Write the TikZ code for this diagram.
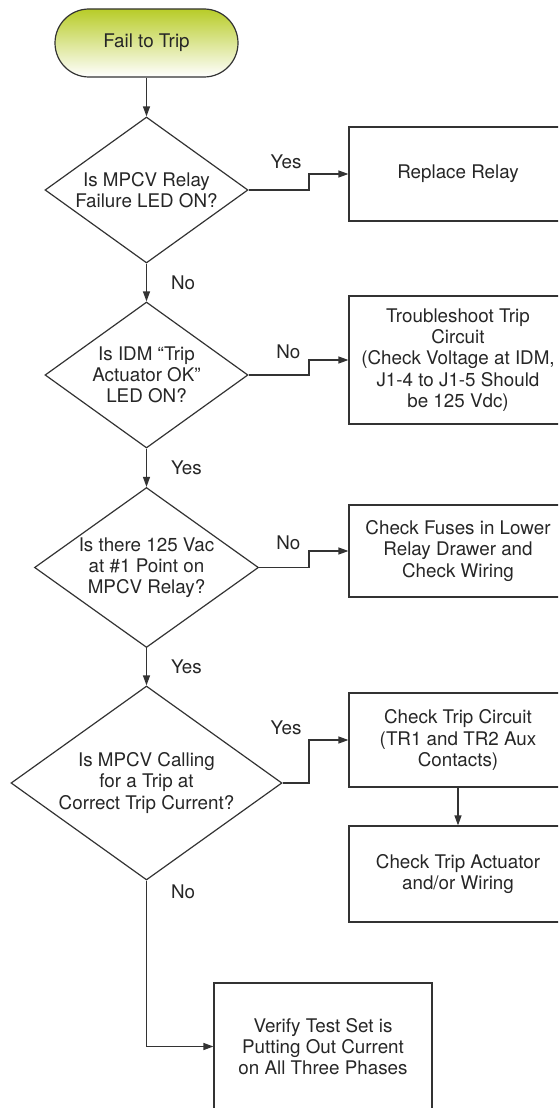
\documentclass[tikz,border=0pt]{standalone}
\usepackage{fontspec}
\setmainfont{TeX Gyre Heros}
\usetikzlibrary{shapes.geometric,arrows.meta}
\definecolor{ln}{HTML}{333333}
\definecolor{tx}{HTML}{262626}
\definecolor{gtop}{RGB}{184,204,40}
\definecolor{gmid}{RGB}{214,227,130}
\begin{document}
\begin{tikzpicture}[x=1pt,y=-1pt,
  every node/.style={font=\fontsize{18.8}{21.3}\selectfont, text=tx},
  base/.style={draw=ln, line width=1.2pt, inner sep=0pt, align=center},
  decision/.style={base, diamond, shape aspect=1.4},
  stepbox/.style={base, rectangle, minimum width=218pt},
  conn/.style={draw=ln, line width=1.2pt, -{Triangle[length=10pt,width=7pt]}},
  lbl/.style={inner sep=0pt}]
\useasboundingbox (0,0) rectangle (558,1108);
\clip (0,0) rectangle (558,1108);

% start terminal
\node[base, rectangle, rounded corners=34pt, minimum width=183pt, minimum height=68pt,
      top color=gtop, middle color=gmid, bottom color=white] (term) at (146.5,43) {Fail to Trip};

% decisions
\node[decision, minimum width=203pt, minimum height=146pt] (d1) at (146.5,190)
  {Is MPCV Relay\\Failure LED ON?};
\node[decision, minimum width=203pt, minimum height=146pt] (d2) at (146.5,375)
  {Is IDM “Trip\\Actuator OK”\\LED ON?};
\node[decision, minimum width=224pt, minimum height=160pt] (d3) at (146.5,567.5)
  {Is there 125 Vac\\at \#1 Point on\\MPCV Relay?};
\node[decision, minimum width=271pt, minimum height=194pt] (d4) at (146.5,783)
  {Is MPCV Calling\\for a Trip at\\Correct Trip Current?};

% action boxes
\node[stepbox, minimum height=94pt] (b1) at (458,174) {Replace Relay};
\node[stepbox, minimum height=128pt] (b2) at (458,360)
  {Troubleshoot Trip\\Circuit\\(Check Voltage at IDM,\\J1-4 to J1-5 Should\\be 125 Vdc)};
\node[stepbox, minimum height=92pt] (b3) at (458,551)
  {Check Fuses in Lower\\Relay Drawer and\\Check Wiring};
\node[stepbox, minimum height=94pt] (b4) at (458,740)
  {Check Trip Circuit\\(TR1 and TR2 Aux\\Contacts)};
\node[stepbox, minimum height=96pt] (b5) at (458,874)
  {Check Trip Actuator\\and/or Wiring};
\node[stepbox, minimum height=127pt] (b6) at (323,1046.5)
  {Verify Test Set is\\Putting Out Current\\on All Three Phases};

\coordinate (ex) at (309,0);

% main spine
\draw[conn] (term.south) -- (d1.north);
\draw[conn] (d1.south) -- node[lbl, anchor=west, xshift=24pt] {No} (d2.north);
\draw[conn] (d2.south) -- node[lbl, anchor=west, xshift=24pt] {Yes} (d3.north);
\draw[conn] (d3.south) -- node[lbl, anchor=west, xshift=24pt] {Yes} (d4.north);
\draw[conn] (d4.south) |- node[lbl, pos=0.035, anchor=west, xshift=24pt] {No} (b6.west);

% side branches
\draw[conn] (d1.east) -- (d1.east -| ex) |- node[lbl, pos=0.5, anchor=east, xshift=-7pt, yshift=12pt] {Yes} (b1.west);
\draw[conn] (d2.east) -- (d2.east -| ex) |- node[lbl, pos=0.5, anchor=east, xshift=-8pt, yshift=8pt] {No} (b2.west);
\draw[conn] (d3.east) -- (d3.east -| ex) |- node[lbl, pos=0.5, anchor=east, xshift=-8pt, yshift=8pt] {No} (b3.west);
\draw[conn] (d4.east) -- (d4.east -| ex) |- node[lbl, pos=0.5, anchor=east, xshift=-7pt, yshift=12pt] {Yes} (b4.west);
\draw[conn] (b4.south) -- (b5.north);
\end{tikzpicture}
\end{document}
